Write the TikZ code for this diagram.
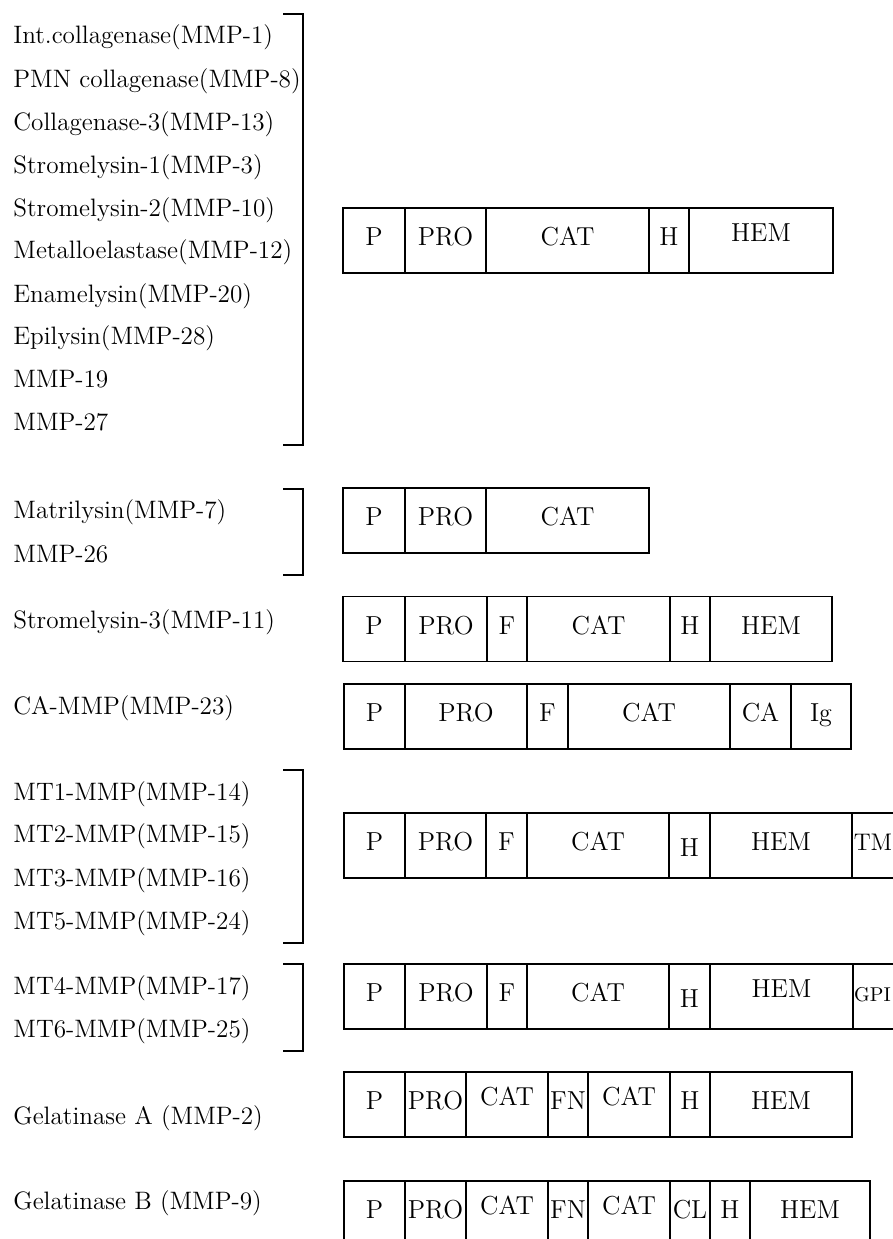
\documentclass[tikz,border=0pt]{standalone}
\usetikzlibrary{positioning}
\tikzset{
  mmpname/.style={anchor=west,inner sep=0pt,font=\fontsize{12.6}{14}\selectfont,
    text height=0.72em,text depth=0.22em},
  dombox/.style={draw,line width=0.65pt,inner sep=0pt,minimum height=32.5pt,
    font=\fontsize{13}{15}\selectfont,text height=0.72em,text depth=0.22em},
  groupbracket/.style={line width=0.65pt},
}
% one row of domains: name, y centre, list of left/right/label
\newcommand{\domainrow}[3]{%
  \foreach \xa/\xb/\lab [count=\k] in {#3}
    \node[dombox,minimum width={(\xb-\xa)*0.5pt}] (#1-\k) at ({(\xa+\xb)/2},#2) {\lab};
}
\begin{document}
\begin{tikzpicture}[x=0.5pt,y=-0.5pt]
        \useasboundingbox (0,0) rectangle (893,1239);
        \clip (0,0) rectangle (893,1239);

        % enzyme names
        \node[mmpname] (mmp1)  at (13,38)  {Int.collagenase(MMP-1)};
        \node[mmpname] (mmp8)  at (13,82)  {PMN collagenase(MMP-8)};
        \node[mmpname] (mmp13) at (13,125) {Collagenase-3(MMP-13)};
        \node[mmpname] (mmp3)  at (13,168) {Stromelysin-1(MMP-3)};
        \node[mmpname] (mmp10) at (13,211) {Stromelysin-2(MMP-10)};
        \node[mmpname] (mmp12) at (13,253) {Metalloelastase(MMP-12)};
        \node[mmpname] (mmp20) at (13,297) {Enamelysin(MMP-20)};
        \node[mmpname] (mmp28) at (13,339) {Epilysin(MMP-28)};
        \node[mmpname] (mmp19) at (13,382) {MMP-19};
        \node[mmpname] (mmp27) at (13,425) {MMP-27};
        \node[mmpname] (mmp7)  at (13,513) {Matrilysin(MMP-7)};
        \node[mmpname] (mmp26) at (13,557) {MMP-26};
        \node[mmpname] (mmp11) at (13,623) {Stromelysin-3(MMP-11)};
        \node[mmpname] (mmp23) at (13,709) {CA-MMP(MMP-23)};
        \node[mmpname] (mmp14) at (13,795) {MT1-MMP(MMP-14)};
        \node[mmpname] (mmp15) at (13,837) {MT2-MMP(MMP-15)};
        \node[mmpname] (mmp16) at (13,881) {MT3-MMP(MMP-16)};
        \node[mmpname] (mmp24) at (13,924) {MT5-MMP(MMP-24)};
        \node[mmpname] (mmp17) at (13,989) {MT4-MMP(MMP-17)};
        \node[mmpname] (mmp25) at (13,1032) {MT6-MMP(MMP-25)};
        \node[mmpname] (mmp2)  at (13,1119) {Gelatinase A (MMP-2)};
        \node[mmpname] (mmp9)  at (13,1204) {Gelatinase B (MMP-9)};

        % brackets
        \draw[groupbracket] (283,14) -- (303,14) -- (303,445) -- (283,445);
        \draw[groupbracket] (283,489) -- (303,489) -- (303,575) -- (283,575);
        \draw[groupbracket] (283,770) -- (303,770) -- (303,943) -- (283,943);
        \draw[groupbracket] (283,964) -- (303,964) -- (303,1051) -- (283,1051);

        % domain structures
        \domainrow{coll}{240.5}{343/405/P, 405/486/PRO, 486/649/CAT, 649/689/H, 689/833/{\raisebox{2pt}{HEM}}}
        \domainrow{matr}{520.5}{343/405/P, 405/486/PRO, 486/649/CAT}
        \domainrow{str3}{629}{343/405/P, 405/487/PRO, 487/527/F, 527/670/CAT, 670/710/H, 710/832/HEM}
        \domainrow{camm}{716.5}{344/405/P, 405/527/PRO, 527/568/F, 568/730/CAT, 730/791/CA, 791/851/Ig}
        \domainrow{mtmm}{845.5}{344/405/P, 405/486/PRO, 486/527/F, 527/669/CAT, 669/710/{\raisebox{-3pt}{H}},
          710/852/HEM, 852/900/{\fontsize{12}{14}\selectfont\hspace*{-3pt}TM}}
        \domainrow{gpim}{996.5}{344/405/P, 405/487/PRO, 487/527/F, 527/669/CAT, 669/710/{\raisebox{-3pt}{H}},
          710/853/{\raisebox{2pt}{HEM}}, 853/900/{\fontsize{10}{11}\selectfont\hspace*{-4pt}GPI}}
        \domainrow{gela}{1104.5}{344/405/P, 405/466/PRO, 466/548/{\raisebox{2pt}{CAT}}, 548/588/FN,
          588/670/{\raisebox{2pt}{CAT}}, 670/710/H, 710/852/HEM}
        \domainrow{gelb}{1213.5}{344/405/P, 405/466/PRO, 466/548/{\raisebox{2pt}{CAT}}, 548/588/FN,
          588/670/{\raisebox{2pt}{CAT}}, 670/710/CL, 710/750/H, 750/870/HEM}
      \end{tikzpicture}
\end{document}
